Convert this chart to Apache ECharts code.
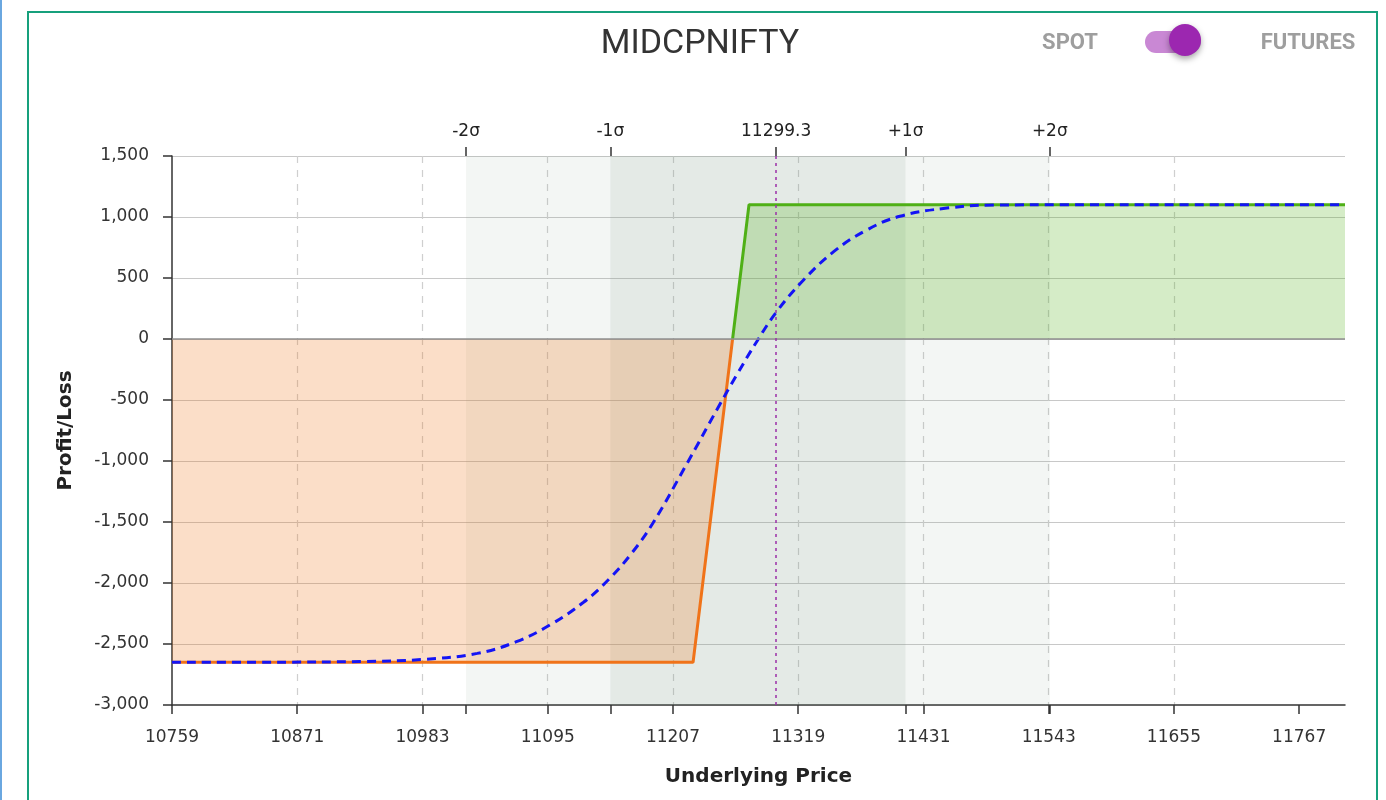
<!DOCTYPE html>
<html><head><meta charset="utf-8">
<script src="https://cdn.jsdelivr.net/npm/echarts@6/dist/echarts.min.js"></script>
<style>html,body{margin:0;padding:0;background:#fff}#c{width:1386px;height:800px}</style>
</head><body><div id="c"></div>
<script>
// ---------- data ----------
const TITLE = 'MIDCPNIFTY';
const X_START = 10759, X_STEP = 112, X_END = 11808;
const xTickValues = [10759, 10871, 10983, 11095, 11207, 11319, 11431, 11543, 11655, 11767];
const Y_MIN = -3000, Y_MAX = 1500, Y_STEP = 500;
const payoffPrices = [10759, 11225, 11260.33, 11275, 11808];
const payoffPL     = [-2650, -2650, 0, 1100, 1100];
const t0Prices = [10759, 10850, 10930, 10983, 11032, 11067, 11097, 11127, 11150, 11170, 11189, 11218, 11249, 11264, 11282, 11300, 11324, 11351, 11380, 11410, 11452, 11494, 11560, 11650, 11808];
const t0PL     = [-2650, -2649, -2643, -2627, -2577, -2481, -2344, -2158, -1967, -1757, -1510, -1046, -535, -295, -20, 227, 486, 718, 892, 1006, 1073, 1098, 1100, 1100, 1100];
const spotPrice = 11299.3;
const sigmaPrices = [11022, 11151, 11415, 11544];
const sigmaLabels = ['-2σ', '-1σ', '+1σ', '+2σ'];

// ---------- chart ----------
const off = p => p - X_START;
const chart = echarts.init(document.getElementById('c'), null, {renderer: 'canvas'});
const FONT = 'DejaVu Sans';
const GRID = {left: 172, right: 41, top: 156, bottom: 95};
const topVals = [sigmaPrices[0], sigmaPrices[1], spotPrice, sigmaPrices[2], sigmaPrices[3]];
const topLabel = v => v === spotPrice ? spotPrice.toFixed(1) : (sigmaLabels[sigmaPrices.indexOf(v)] || '');
const light = 'rgba(120,150,130,0.09)', dark = 'rgba(120,150,130,0.2)';
const ORANGE = '#f07319', GREEN = '#4fb016';

// split payoff into loss (<=0) and profit (>=0) parts
const lossPts = [], profitPts = [];
payoffPrices.forEach((p, i) => {
  const v = payoffPL[i];
  if (v <= 0) lossPts.push([off(p), v]);
  if (v >= 0) profitPts.push([off(p), v]);
});

chart.setOption({
  animation: false,
  backgroundColor: '#fff',
  grid: [Object.assign({}, GRID), Object.assign({}, GRID)],
  graphic: [
    {type: 'rect', shape: {x: 28, y: 12, width: 1349, height: 800}, style: {fill: 'none', stroke: '#17a07c', lineWidth: 2}, z: 0},
    {type: 'line', shape: {x1: 1, y1: 0, x2: 1, y2: 800}, style: {stroke: '#6aa7e0', lineWidth: 2}},
    {type: 'text', x: 700, y: 44, style: {text: TITLE, font: '34px Roboto', fill: '#333', align: 'center', verticalAlign: 'middle'}},
    {type: 'text', x: 1070, y: 43, style: {text: 'SPOT', font: 'bold 22px Roboto', fill: '#9e9e9e', align: 'center', verticalAlign: 'middle'}},
    {type: 'text', x: 1308, y: 43, style: {text: 'FUTURES', font: 'bold 22px Roboto', fill: '#9e9e9e', align: 'center', verticalAlign: 'middle'}},
    {type: 'rect', shape: {x: 1145, y: 31, width: 56, height: 22, r: 11}, style: {fill: 'rgba(156,39,176,0.55)'}},
    {type: 'circle', shape: {cx: 1185, cy: 40, r: 16}, style: {fill: '#9c27b0', shadowBlur: 6, shadowOffsetY: 3, shadowColor: 'rgba(0,0,0,0.35)'}}
  ],
  xAxis: [
    {
      type: 'value', gridIndex: 0, position: 'bottom',
      min: 0, max: off(X_END), interval: X_STEP,
      name: 'Underlying Price', nameLocation: 'middle', nameGap: 62,
      nameTextStyle: {fontFamily: FONT, fontSize: 20, fontWeight: 'bold', color: '#222'},
      axisLine: {onZero: false, lineStyle: {color: '#333', width: 1.5}},
      axisTick: {length: 9, lineStyle: {color: '#333', width: 1.5}, customValues: xTickValues.map(off)},
      axisLabel: {customValues: xTickValues.map(off), formatter: v => String(v + X_START), margin: 24, fontFamily: FONT, fontSize: 17, color: '#333'},
      splitLine: {show: true, showMinLine: false, showMaxLine: false, lineStyle: {color: '#cfcfcf', width: 1.2, type: [7, 7]}}
    },
    {
      type: 'value', gridIndex: 1, position: 'top', min: X_START, max: X_END,
      axisLine: {show: false, onZero: false},
      axisTick: {show: true, length: 9, customValues: topVals, lineStyle: {color: '#333', width: 1.5}},
      axisLabel: {customValues: topVals, formatter: topLabel, margin: 16, fontFamily: FONT, fontSize: 17, color: '#222'},
      splitLine: {show: false}
    },
    {
      type: 'value', gridIndex: 1, position: 'bottom', min: X_START, max: X_END,
      axisLine: {show: false, onZero: false},
      axisTick: {show: true, length: 9, customValues: sigmaPrices, lineStyle: {color: '#333', width: 1.5}},
      axisLabel: {show: false},
      splitLine: {show: false}
    }
  ],
  yAxis: [
    {
      type: 'value', gridIndex: 0, min: Y_MIN, max: Y_MAX, interval: Y_STEP,
      name: 'Profit/Loss', nameLocation: 'middle', nameGap: 96, nameRotate: 90,
      nameTextStyle: {fontFamily: FONT, fontSize: 20, fontWeight: 'bold', color: '#222'},
      axisLine: {show: true, onZero: false, lineStyle: {color: '#333', width: 1.5}},
      axisTick: {show: true, length: 9, lineStyle: {color: '#333', width: 1.5}},
      axisLabel: {formatter: v => v.toLocaleString('en-US'), margin: 23, fontFamily: FONT, fontSize: 17, color: '#333'},
      splitLine: {show: true, showMinLine: false, lineStyle: {color: '#c8c8c8', width: 1.2}}
    },
    {type: 'value', gridIndex: 1, min: 0, max: 1, show: false}
  ],
  series: [
    {
      name: 'Loss', type: 'line', xAxisIndex: 0, yAxisIndex: 0, z: 3,
      data: lossPts, symbol: 'none',
      lineStyle: {width: 3, color: ORANGE}, itemStyle: {color: ORANGE},
      areaStyle: {color: ORANGE, opacity: 0.24, origin: 0}
    },
    {
      name: 'Profit', type: 'line', xAxisIndex: 0, yAxisIndex: 0, z: 3,
      data: profitPts, symbol: 'none',
      lineStyle: {width: 3, color: GREEN}, itemStyle: {color: GREEN},
      areaStyle: {color: GREEN, opacity: 0.24, origin: 0},
      markLine: {
        silent: true, symbol: 'none', label: {show: false},
        data: [
          {yAxis: 0, lineStyle: {color: '#8f8f8f', width: 1.5, type: 'solid'}},
          {xAxis: off(spotPrice), lineStyle: {color: '#9a2fa8', width: 1.5, type: [3, 4]}}
        ]
      }
    },
    {
      name: 'T+0', type: 'line', xAxisIndex: 0, yAxisIndex: 0, z: 4,
      data: t0Prices.map((p, i) => [off(p), t0PL[i]]),
      symbol: 'none', smooth: 0.4,
      lineStyle: {color: '#1414f5', width: 3, type: [9, 6]},
      markArea: {
        silent: true,
        data: [
          [{xAxis: off(sigmaPrices[0]), itemStyle: {color: light}}, {xAxis: off(sigmaPrices[1])}],
          [{xAxis: off(sigmaPrices[1]), itemStyle: {color: dark}}, {xAxis: off(sigmaPrices[2])}],
          [{xAxis: off(sigmaPrices[2]), itemStyle: {color: light}}, {xAxis: off(sigmaPrices[3])}]
        ]
      }
    }
  ]
});
</script></body></html>
